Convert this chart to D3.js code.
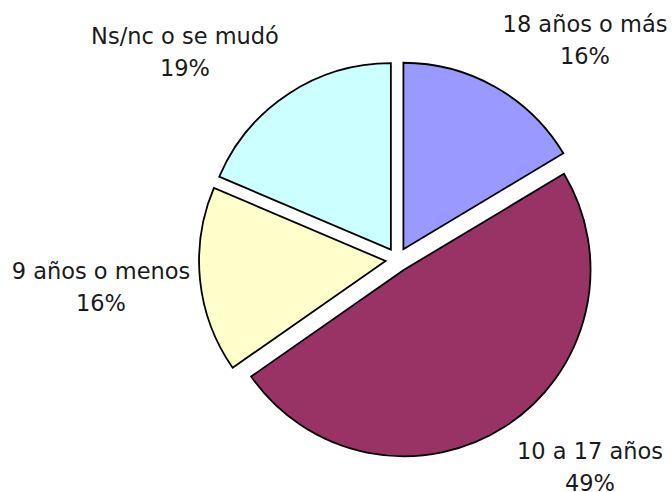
<!DOCTYPE html>
<html>
<head>
<meta charset="utf-8">
<script src="https://cdn.jsdelivr.net/npm/d3@7"></script>
<style>
  body { margin: 0; background: #fff; }
  svg { display: block; }
</style>
</head>
<body>
<div id="chart"></div>
<script>
const width = 672;
const height = 492;

// data
const categories = ["18 años o más", "10 a 17 años", "9 años o menos", "Ns/nc o se mudó"];
const values = [16.4, 48.9, 16.1, 18.6];
const percentLabels = ["16%", "49%", "16%", "19%"];
const colors = ["#9999FF", "#993366", "#FFFFCC", "#CCFFFF"];

// layout
const cx = 397.5, cy = 259.7;
const radius = 186.5;
const explode = 12;
// label centres (first line baseline)
const labelPos = [[585, 32], [590, 459], [101, 279], [185, 44]];
const lineGap = 32;

const svg = d3.select("#chart").append("svg")
    .attr("width", width)
    .attr("height", height);

const pie = d3.pie().sort(null).value(d => d.value);
const arcs = pie(categories.map((c, i) => ({ name: c, value: values[i], pct: percentLabels[i], color: colors[i] })));

const arc = d3.arc().innerRadius(0).outerRadius(radius);

const g = svg.append("g")
    .attr("transform", `translate(${cx},${cy})`);

g.selectAll("path.slice")
    .data(arcs)
    .enter().append("path")
    .attr("class", "slice")
    .attr("d", arc)
    .attr("fill", d => d.data.color)
    .attr("stroke", "#000")
    .attr("stroke-width", 1.8)
    .attr("stroke-linejoin", "miter")
    .attr("transform", d => {
        const mid = (d.startAngle + d.endAngle) / 2;
        return `translate(${explode * Math.sin(mid)},${-explode * Math.cos(mid)})`;
    });

// labels
arcs.forEach((d, i) => {
    const t = svg.append("text")
        .attr("text-anchor", "middle")
        .attr("font-family", "'DejaVu Sans', Verdana, sans-serif")
        .attr("font-size", "22.5px")
        .attr("fill", "#1a1a1a");
    t.append("tspan")
        .attr("x", labelPos[i][0])
        .attr("y", labelPos[i][1])
        .text(d.data.name);
    t.append("tspan")
        .attr("x", labelPos[i][0])
        .attr("y", labelPos[i][1] + lineGap)
        .text(d.data.pct);
});
</script>
</body>
</html>
